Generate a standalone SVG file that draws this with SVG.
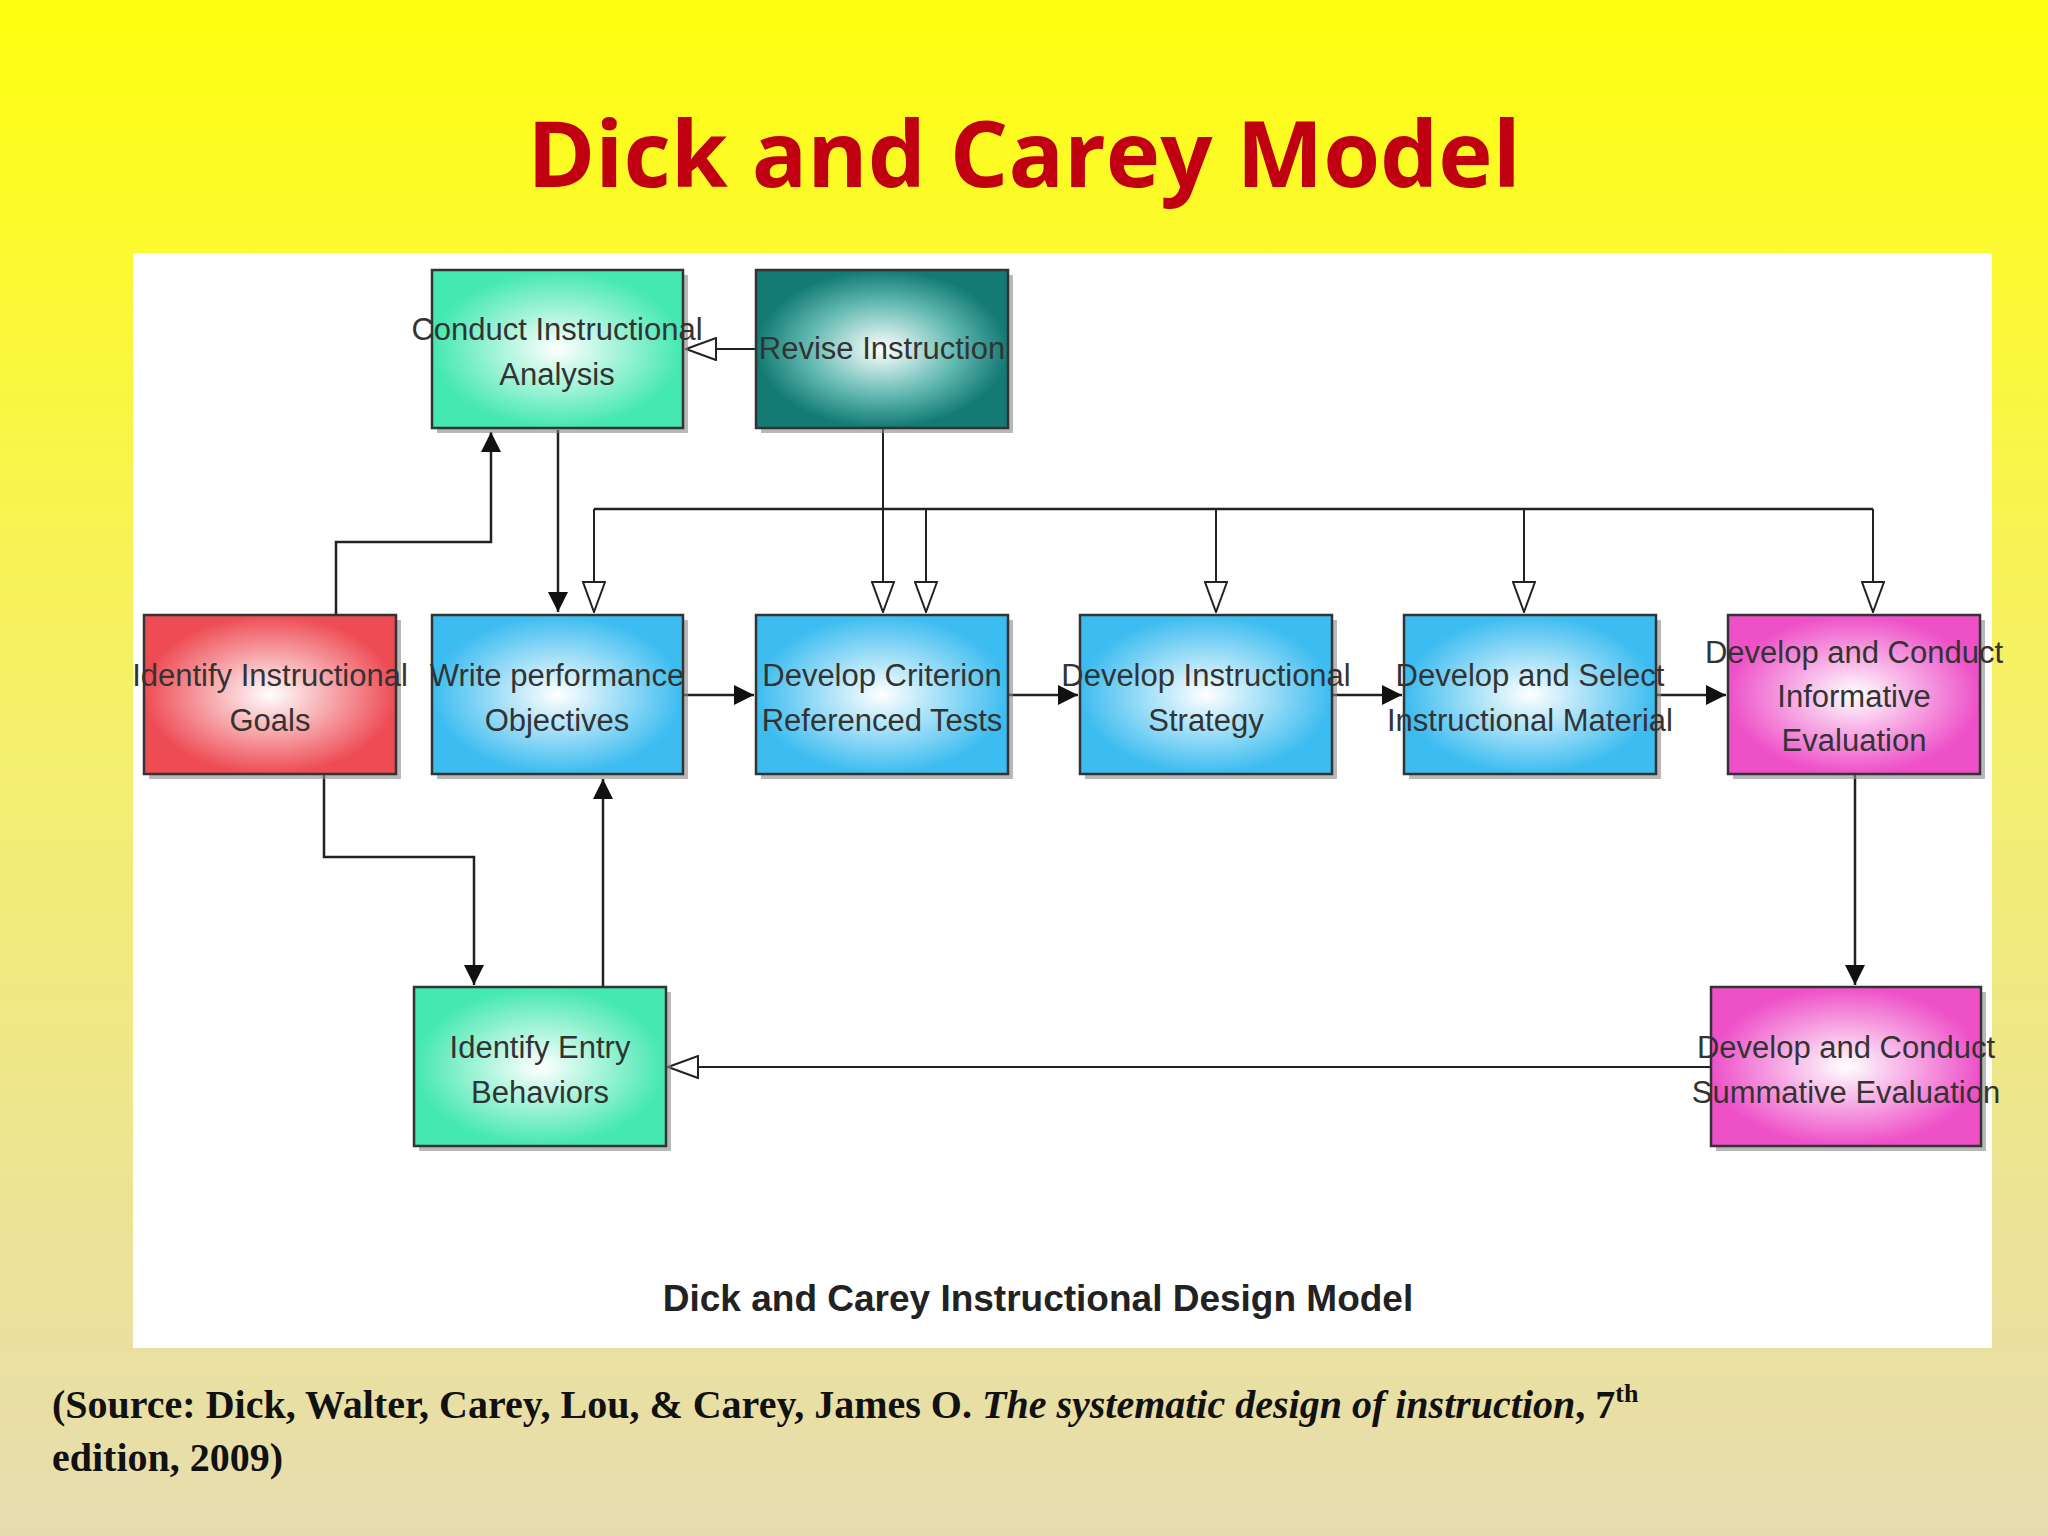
<svg xmlns="http://www.w3.org/2000/svg" width="2048" height="1536" viewBox="0 0 2048 1536">
<defs>
<linearGradient id="bg" x1="0" y1="0" x2="0" y2="1"><stop offset="0" stop-color="#ffff10"/><stop offset="0.5" stop-color="#f4ee70"/><stop offset="1" stop-color="#e6dcb0"/></linearGradient>
<radialGradient id="gGreen"><stop offset="0" stop-color="#ffffff"/><stop offset="1" stop-color="#44e8b0"/></radialGradient>
<radialGradient id="gTeal"><stop offset="0" stop-color="#ffffff"/><stop offset="0.6" stop-color="#60b8b0"/><stop offset="1" stop-color="#137a74"/></radialGradient>
<radialGradient id="gRed"><stop offset="0" stop-color="#ffffff"/><stop offset="1" stop-color="#ee4c55"/></radialGradient>
<radialGradient id="gBlue"><stop offset="0" stop-color="#ffffff"/><stop offset="1" stop-color="#3cbcf0"/></radialGradient>
<radialGradient id="gPink"><stop offset="0" stop-color="#ffffff"/><stop offset="1" stop-color="#ee50c8"/></radialGradient>
<marker id="fill" viewBox="0 0 20 20" refX="20" refY="10" markerWidth="20" markerHeight="20" markerUnits="userSpaceOnUse" orient="auto"><path d="M0,0 L20,10 L0,20 z" fill="#111"/></marker>
<marker id="open" viewBox="0 0 32 24" refX="31" refY="12" markerWidth="32" markerHeight="24" markerUnits="userSpaceOnUse" orient="auto"><path d="M1,1 L31,12 L1,23 z" fill="#fff" stroke="#222" stroke-width="2"/></marker>
<style>
.box{stroke:#333;stroke-width:2.5}
.sh{fill:#888;opacity:.6}
.t{font-family:"Liberation Sans",Arial,sans-serif;font-stretch:condensed;font-size:31px;fill:#333;text-anchor:middle}
.ln{fill:none;stroke:#222;stroke-width:2.5}
.lf{fill:none;stroke:#222;stroke-width:2.5;marker-end:url(#fill)}
.lo{fill:none;stroke:#222;stroke-width:2;marker-end:url(#open)}
</style>
</defs>
<rect width="2048" height="1536" fill="url(#bg)"/>
<text x="1024" y="187" font-family="'Open Sans','Noto Sans',sans-serif" font-weight="bold" font-size="92" fill="#c00010" text-anchor="middle">Dick and Carey Model</text>
<rect x="133" y="253" width="1859" height="1095" fill="#fff"/>
<g id="connectors">
<path class="lf" d="M558,430 V612"/>
<path class="lo" d="M756,349 H686"/>
<path class="lo" d="M883,428 V612"/>
<path class="ln" d="M594,509 H1873"/>
<path class="lo" d="M594,509 V612"/>
<path class="lo" d="M926,509 V612"/>
<path class="lo" d="M1216,509 V612"/>
<path class="lo" d="M1524,509 V612"/>
<path class="lo" d="M1873,509 V612"/>
<path class="lf" d="M336,615 V542 H491 V432"/>
<path class="lf" d="M324,774 V857 H474 V985"/>
<path class="lf" d="M603,987 V779"/>
<path class="lf" d="M684,695 H754"/>
<path class="lf" d="M1008,695 H1078"/>
<path class="lf" d="M1332,695 H1402"/>
<path class="lf" d="M1656,695 H1726"/>
<path class="lf" d="M1855,774 V985"/>
<path class="lo" d="M1711,1067 H668"/>
</g>
<g id="n1"><rect class="sh" x="437" y="275" width="251" height="158"/><rect class="box" x="432" y="270" width="251" height="158" fill="url(#gGreen)"/><text class="t" x="557" y="340">Conduct Instructional</text><text class="t" x="557" y="385">Analysis</text></g>
<g id="n2"><rect class="sh" x="761" y="275" width="252" height="158"/><rect class="box" x="756" y="270" width="252" height="158" fill="url(#gTeal)"/><text class="t" x="882" y="359">Revise Instruction</text></g>
<g id="n3"><rect class="sh" x="149" y="620" width="252" height="159"/><rect class="box" x="144" y="615" width="252" height="159" fill="url(#gRed)"/><text class="t" x="270" y="686">Identify Instructional</text><text class="t" x="270" y="731">Goals</text></g>
<g id="n4"><rect class="sh" x="437" y="620" width="251" height="159"/><rect class="box" x="432" y="615" width="251" height="159" fill="url(#gBlue)"/><text class="t" x="557" y="686">Write performance</text><text class="t" x="557" y="731">Objectives</text></g>
<g id="n5"><rect class="sh" x="761" y="620" width="252" height="159"/><rect class="box" x="756" y="615" width="252" height="159" fill="url(#gBlue)"/><text class="t" x="882" y="686">Develop Criterion</text><text class="t" x="882" y="731">Referenced Tests</text></g>
<g id="n6"><rect class="sh" x="1085" y="620" width="252" height="159"/><rect class="box" x="1080" y="615" width="252" height="159" fill="url(#gBlue)"/><text class="t" x="1206" y="686">Develop Instructional</text><text class="t" x="1206" y="731">Strategy</text></g>
<g id="n7"><rect class="sh" x="1409" y="620" width="252" height="159"/><rect class="box" x="1404" y="615" width="252" height="159" fill="url(#gBlue)"/><text class="t" x="1530" y="686">Develop and Select</text><text class="t" x="1530" y="731">Instructional Material</text></g>
<g id="n8"><rect class="sh" x="1733" y="620" width="252" height="159"/><rect class="box" x="1728" y="615" width="252" height="159" fill="url(#gPink)"/><text class="t" x="1854" y="663">Develop and Conduct</text><text class="t" x="1854" y="707">Informative</text><text class="t" x="1854" y="751">Evaluation</text></g>
<g id="n9"><rect class="sh" x="419" y="992" width="252" height="159"/><rect class="box" x="414" y="987" width="252" height="159" fill="url(#gGreen)"/><text class="t" x="540" y="1058">Identify Entry</text><text class="t" x="540" y="1103">Behaviors</text></g>
<g id="n10"><rect class="sh" x="1716" y="992" width="270" height="159"/><rect class="box" x="1711" y="987" width="270" height="159" fill="url(#gPink)"/><text class="t" x="1846" y="1058">Develop and Conduct</text><text class="t" x="1846" y="1103">Summative Evaluation</text></g>
<text x="1038" y="1311" font-family="'Liberation Sans',Arial,sans-serif" font-stretch="condensed" font-weight="bold" font-size="37" fill="#222" text-anchor="middle">Dick and Carey Instructional Design Model</text>
<text x="52" y="1418" font-family="'Liberation Serif','Times New Roman',serif" font-weight="bold" font-size="40" fill="#111">(Source: Dick, Walter, Carey, Lou, &amp; Carey, James O. <tspan font-style="italic">The systematic design of instruction</tspan>, 7<tspan font-size="26" dy="-16">th</tspan></text>
<text x="52" y="1471" font-family="'Liberation Serif','Times New Roman',serif" font-weight="bold" font-size="40" fill="#111">edition, 2009)</text>
</svg>
